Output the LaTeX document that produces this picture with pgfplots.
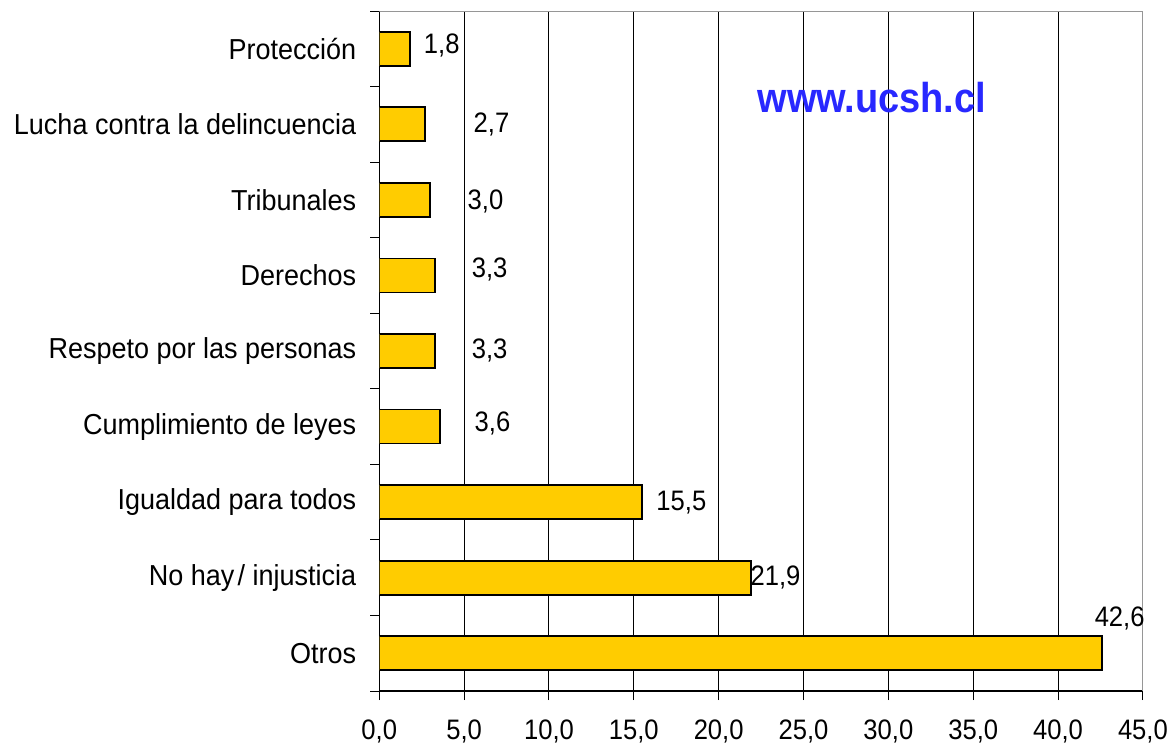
\documentclass[border=0pt]{standalone}
\usepackage{fontspec}
\setmainfont{Liberation Sans}
\usepackage{pgfplots}
\usepackage{pgfplotstable}
\pgfplotsset{compat=1.18}

\definecolor{barfill}{RGB}{255,204,0}
\definecolor{wmblue}{RGB}{40,40,255}
\definecolor{framegray}{RGB}{150,150,150}

% bar values, Otros at the bottom (0) up to Proteccion (8)
\pgfplotstableread{
idx val
0 42.6
1 21.9
2 15.5
3 3.6
4 3.3
5 3.3
6 3.0
7 2.7
8 1.8
}\bars

% where the value labels sit
\pgfplotstableread{
lx ly lab
43.63 0.46 42,6
23.35 1.00 21,9
17.80 2.00 15,5
6.67 3.04 3,6
6.50 4.01 3,3
6.50 5.08 3,3
6.26 5.98 3,0
6.61 7.00 2,7
3.68 8.05 1,8
}\labels

\begin{document}
\begin{tikzpicture}
\begin{axis}[
    scale only axis,
    width=381.8pt, height=340pt,
    xmin=0, xmax=45, ymin=-0.5, ymax=8.5,
    bar width=17pt,
    axis x line*=bottom, axis y line*=left,
    axis line style={line width=0.75pt},
    tick align=outside,
    major tick length=4.5pt,
    tick style={black, line width=0.5pt},
    xtick={0,5,...,45},
    xmajorgrids,
    grid style={black, line width=0.5pt},
    /pgf/number format/assume math mode=true,
    xticklabel style={/pgf/number format/.cd, fixed, fixed zerofill, precision=1, use comma, /tikz/.cd,
        font=\fontsize{12.8}{15}\selectfont, yscale=1.1, yshift=-5.5pt},
    ytick={-0.5,0.5,...,8.5},
    yticklabels={},
    extra y ticks={0,1,2,3,4,5,6,7,8},
    extra y tick labels={Otros, No hay\kern0.12em/ injusticia, Igualdad para todos, Cumplimiento de leyes,
        Respeto por las personas, Derechos, Tribunales, Lucha contra la delincuencia, Protección},
    extra y tick style={major tick length=0pt, tick style={draw=none},
        yticklabel style={font=\fontsize{13.5}{16}\selectfont, yscale=1.07, anchor=east, xshift=-8pt}},
]
\addplot[xbar, fill=barfill, draw=black, line width=0.9pt] table[x=val, y=idx] {\bars};
\addplot[draw=none, mark=none, nodes near coords, point meta=explicit symbolic,
    nodes near coords style={anchor=center, font=\fontsize{12.8}{15}\selectfont, yscale=1.1, text=black}]
    table[x=lx, y=ly, meta=lab] {\labels};
\draw[framegray, line width=1pt] (rel axis cs:0,1) -- (rel axis cs:1,1) -- (rel axis cs:1,0);
\node[text=wmblue, font=\fontsize{19}{22}\selectfont\bfseries, yscale=1.1] at (rel axis cs:0.645,0.872) {www.ucsh.cl};
\coordinate (bl) at (rel axis cs:-0.4967,-0.0853);
\coordinate (tr) at (rel axis cs:1.0381,1.0162);
\end{axis}
\pgfresetboundingbox
\path[use as bounding box] (bl) rectangle (tr);
\end{tikzpicture}
\end{document}
